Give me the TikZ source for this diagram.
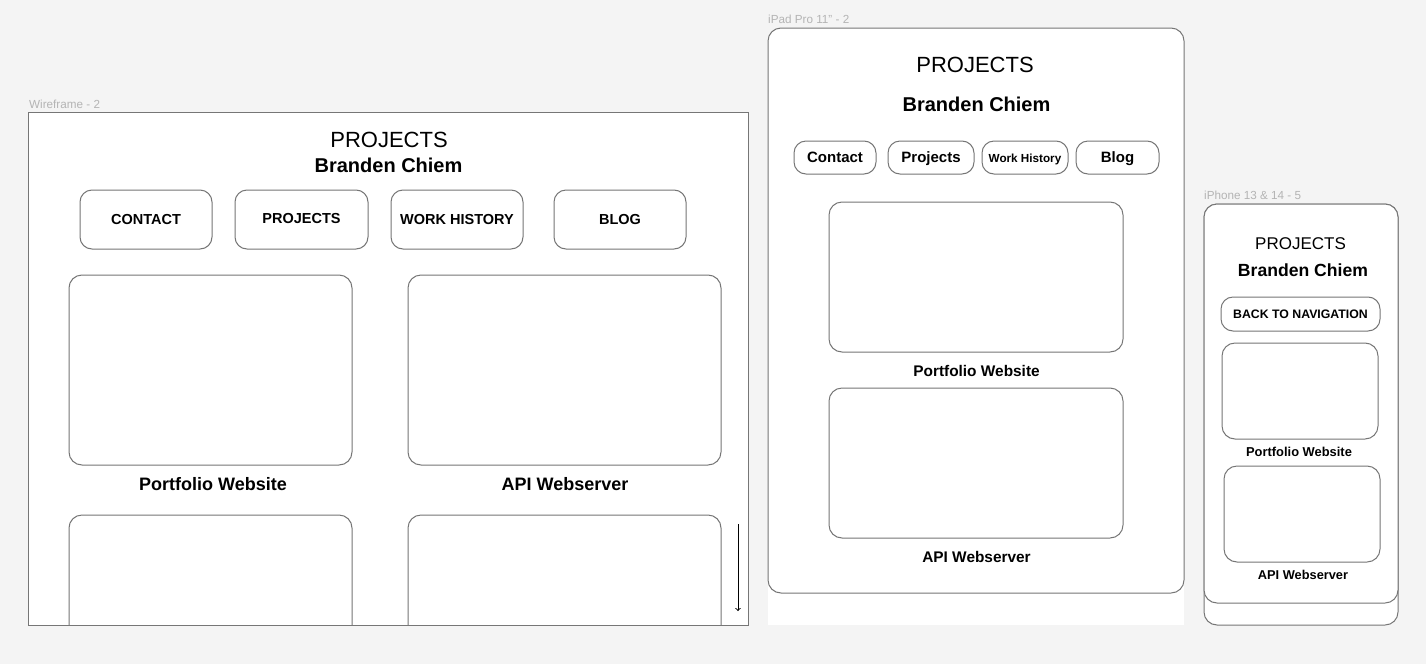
\documentclass[tikz,border=0pt]{standalone}
\usepackage{fontspec}
\setmainfont{Liberation Sans}
\usepackage{tikz}
\usetikzlibrary{positioning}

\definecolor{canvas}{HTML}{F4F4F4}
\definecolor{edgegray}{HTML}{767676}
\definecolor{labelgray}{HTML}{B4B4B4}
\newcommand{\pxfont}[1]{\fontsize{#1}{#1}\selectfont}

\begin{document}
\begin{tikzpicture}[%
    x=1pt, y=-1pt,
    frameLabel/.style={%
        anchor=base west,
        inner sep=0pt,
        text=labelgray,
        font=\pxfont{11.7}
    },
    screen/.style={%
        draw=edgegray,
        fill=white,
        line width=1pt,
        inner sep=0pt
    },
    navButton/.style={%
        draw=edgegray,
        fill=white,
        line width=1pt,
        rounded corners=12pt,
        inner sep=0pt,
        minimum height=#1,
        text height=0.9em,
        text depth=0pt
    },
    card/.style={%
        draw=edgegray,
        fill=white,
        line width=1pt,
        rounded corners=13pt,
        inner sep=0pt
    },
    heading/.style={%
        anchor=base,
        inner sep=0pt
    },
    >=to
]

% Canvas
    \fill[canvas] (0,0) rectangle (1426,664);
    \useasboundingbox (0,0) rectangle (1426,664);

% Wireframe - 2
    \node[frameLabel] (wireLabel) at (29,108) {Wireframe - 2};
    \node[screen, draw=none, minimum width=719pt, minimum height=512pt] (wireframe) at (388.5,369) {};
    \node[heading, font=\pxfont{22}] (wireTitle) at (389,147.5) {PROJECTS};
    \node[heading, font=\pxfont{20}\bfseries] (wireName) at (388.5,172) {Branden Chiem};

    \node[navButton=59pt, minimum width=132pt, font=\pxfont{14.5}\bfseries] (wireContact) at (146,219.5) {CONTACT};
    \node[navButton=59pt, minimum width=133pt, font=\pxfont{14.5}\bfseries, text height=0.72em] (wireProjects) at (301.5,219.5) {PROJECTS};
    \node[navButton=59pt, minimum width=132pt, font=\pxfont{14.5}\bfseries] (wireWork) at (457,219.5) {WORK HISTORY};
    \node[navButton=59pt, minimum width=132pt, font=\pxfont{14.5}\bfseries] (wireBlog) at (620,219.5) {BLOG};

    \node[card, minimum width=283pt, minimum height=190pt] (wirePortfolio) at (210.5,370) {};
    \node[card, minimum width=313pt, minimum height=190pt] (wireApi) at (564.5,370) {};
    \node[heading, font=\pxfont{18}\bfseries] (wirePortfolioLabel) at (213,490) {Portfolio Website};
    \node[heading, font=\pxfont{18}\bfseries] (wireApiLabel) at (565,490) {API Webserver};

% cards cut off by the frame
    \begin{scope}
        \clip (wireframe.north west) rectangle (wireframe.south east);
        \node[card, minimum width=283pt, minimum height=190pt] (wireNextLeft) at (210.5,610) {};
        \node[card, minimum width=313pt, minimum height=190pt] (wireNextRight) at (564.5,610) {};
    \end{scope}
    \draw[edgegray, line width=1pt] (wireframe.north west) rectangle (wireframe.south east);

% Scroll hint
    \coordinate (scrollStart) at (738,524);
    \coordinate (scrollEnd) at (738,611);
    \draw[->, line width=1pt] (scrollStart) -- (scrollEnd);

% iPad Pro 11" - 2
    \node[frameLabel] (ipadLabel) at (768,23) {iPad Pro 11" - 2};
    \node[fill=white, inner sep=0pt, minimum width=416pt, minimum height=65pt] (ipadExtension) at (976,592.5) {};
    \node[screen, rounded corners=13pt, minimum width=416pt, minimum height=565pt] (ipad) at (976,310.5) {};
    \node[heading, font=\pxfont{22}] (ipadTitle) at (975,72.5) {PROJECTS};
    \node[heading, font=\pxfont{20}\bfseries] (ipadName) at (976.5,111) {Branden Chiem};

    \node[navButton=33pt, minimum width=82pt, font=\pxfont{15}\bfseries] (ipadContact) at (835,157.5) {Contact};
    \node[navButton=33pt, minimum width=86pt, font=\pxfont{15}\bfseries] (ipadProjects) at (931,157.5) {Projects};
    \node[navButton=33pt, minimum width=86pt, font=\pxfont{11.7}\bfseries] (ipadWork) at (1025,157.5) {Work History};
    \node[navButton=33pt, minimum width=83pt, font=\pxfont{15}\bfseries] (ipadBlog) at (1117.5,157.5) {Blog};

    \node[card, minimum width=294pt, minimum height=150pt] (ipadPortfolio) at (976,277) {};
    \node[heading, font=\pxfont{15.4}\bfseries] (ipadPortfolioLabel) at (976.5,376) {Portfolio Website};
    \node[card, minimum width=294pt, minimum height=150pt] (ipadApi) at (976,463) {};
    \node[heading, font=\pxfont{15.4}\bfseries] (ipadApiLabel) at (976.5,562) {API Webserver};

% iPhone 13 & 14 - 5
    \node[frameLabel] (phoneLabel) at (1204,199) {iPhone 13 \& 14 - 5};
    \node[screen, rounded corners=13pt, minimum width=194pt, minimum height=421pt] (phoneShadow) at (1301,414.5) {};
    \node[screen, rounded corners=13pt, minimum width=194pt, minimum height=399pt] (phone) at (1301,403.5) {};
    \node[heading, font=\pxfont{17}] (phoneTitle) at (1300.5,249) {PROJECTS};
    \node[heading, font=\pxfont{17.6}\bfseries] (phoneName) at (1303,276.5) {Branden Chiem};

    \node[navButton=34pt, minimum width=159pt, font=\pxfont{12.3}\bfseries] (phoneBackNav) at (1300.5,314) {BACK TO NAVIGATION};

    \node[card, minimum width=156pt, minimum height=96pt] (phonePortfolio) at (1300,391) {};
    \node[heading, font=\pxfont{12.9}\bfseries] (phonePortfolioLabel) at (1299,456) {Portfolio Website};
    \node[card, minimum width=156pt, minimum height=96pt] (phoneApi) at (1302,514) {};
    \node[heading, font=\pxfont{12.8}\bfseries] (phoneApiLabel) at (1303,579) {API Webserver};

\end{tikzpicture}
\end{document}
